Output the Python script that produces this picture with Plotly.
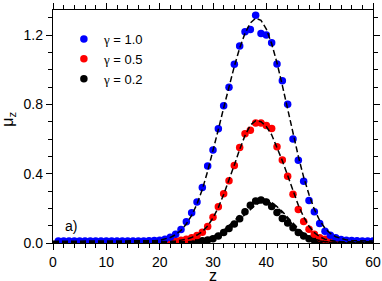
import plotly.graph_objects as go

x_pts = list(range(1, 61))
x_fit = list(range(0, 61))

blue_pts = [0.012, 0.012, 0.012, 0.012, 0.012, 0.012, 0.012, 0.012, 0.012, 0.012,
            0.012, 0.012, 0.012, 0.012, 0.012, 0.012, 0.012, 0.013, 0.014, 0.016,
            0.022, 0.033, 0.051, 0.078, 0.122, 0.174, 0.237, 0.321, 0.444, 0.537,
            0.659, 0.792, 0.899, 1.032, 1.137, 1.219, 1.233, 1.315, 1.210, 1.200,
            1.156, 1.033, 0.936, 0.801, 0.600, 0.477, 0.356, 0.246, 0.180, 0.112,
            0.068, 0.045, 0.030, 0.020, 0.016, 0.014, 0.013, 0.012, 0.012, 0.012]
red_pts = [0.005, 0.005, 0.005, 0.005, 0.005, 0.005, 0.005, 0.005, 0.005, 0.005,
           0.005, 0.005, 0.005, 0.005, 0.005, 0.005, 0.005, 0.005, 0.005, 0.006,
           0.007, 0.009, 0.012, 0.016, 0.021, 0.030, 0.043, 0.062, 0.095, 0.148,
           0.209, 0.285, 0.359, 0.447, 0.551, 0.630, 0.651, 0.693, 0.692, 0.678,
           0.661, 0.555, 0.479, 0.385, 0.281, 0.193, 0.124, 0.080, 0.051, 0.031,
           0.021, 0.014, 0.010, 0.008, 0.006, 0.006, 0.006, 0.006, 0.006, 0.006]
black_pts = [0.003, 0.003, 0.003, 0.003, 0.003, 0.003, 0.003, 0.003, 0.003, 0.003,
             0.003, 0.003, 0.003, 0.003, 0.003, 0.003, 0.003, 0.003, 0.003, 0.003,
             0.003, 0.003, 0.004, 0.005, 0.006, 0.008, 0.010, 0.013, 0.018, 0.025,
             0.040, 0.060, 0.083, 0.110, 0.140, 0.180, 0.218, 0.242, 0.248, 0.237,
             0.210, 0.176, 0.142, 0.115, 0.088, 0.060, 0.040, 0.025, 0.016, 0.010,
             0.007, 0.005, 0.003, 0.003, 0.003, 0.003, 0.003, 0.003, 0.003, 0.003]

blue_fit = [0.010, 0.010, 0.010, 0.010, 0.010, 0.010, 0.010, 0.010, 0.010, 0.010,
            0.010, 0.010, 0.010, 0.010, 0.010, 0.010, 0.010, 0.010, 0.011, 0.013,
            0.016, 0.022, 0.032, 0.048, 0.073, 0.110, 0.160, 0.225, 0.310, 0.415,
            0.530, 0.655, 0.780, 0.905, 1.020, 1.125, 1.210, 1.270, 1.298, 1.285,
            1.235, 1.150, 1.040, 0.910, 0.770, 0.630, 0.500, 0.380, 0.280, 0.195,
            0.130, 0.085, 0.055, 0.036, 0.025, 0.018, 0.014, 0.012, 0.011, 0.011,
            0.011]
red_fit = [0.005, 0.005, 0.005, 0.005, 0.005, 0.005, 0.005, 0.005, 0.005, 0.005,
           0.005, 0.005, 0.005, 0.005, 0.005, 0.005, 0.005, 0.005, 0.005, 0.005,
           0.006, 0.007, 0.009, 0.012, 0.016, 0.022, 0.032, 0.046, 0.066, 0.098,
           0.145, 0.205, 0.280, 0.360, 0.450, 0.540, 0.620, 0.680, 0.706, 0.700,
           0.672, 0.625, 0.555, 0.475, 0.390, 0.300, 0.218, 0.150, 0.097, 0.060,
           0.036, 0.022, 0.014, 0.010, 0.007, 0.007, 0.007, 0.007, 0.007, 0.007,
           0.007]
black_fit_a = [0.003, 0.003, 0.003, 0.003, 0.003, 0.003, 0.003, 0.003, 0.003, 0.003,
               0.003, 0.003, 0.003, 0.003, 0.003, 0.003, 0.003, 0.003, 0.003, 0.003,
               0.003, 0.003, 0.003, 0.004, 0.005, 0.007, 0.010, 0.014, 0.019, 0.027,
               0.038, 0.053, 0.073, 0.098, 0.128, 0.160, 0.193, 0.222, 0.243, 0.254,
               0.251, 0.235, 0.207, 0.172, 0.135, 0.100, 0.070, 0.046, 0.029, 0.018,
               0.011, 0.007, 0.004, 0.003, 0.003, 0.003, 0.003, 0.003, 0.003, 0.003,
               0.003]
black_fit_b = [0.002, 0.002, 0.002, 0.002, 0.002, 0.002, 0.002, 0.002, 0.002, 0.002,
               0.002, 0.002, 0.002, 0.002, 0.002, 0.002, 0.002, 0.002, 0.002, 0.002,
               0.002, 0.002, 0.002, 0.003, 0.004, 0.005, 0.007, 0.010, 0.014, 0.020,
               0.028, 0.040, 0.056, 0.077, 0.103, 0.133, 0.165, 0.195, 0.220, 0.236,
               0.240, 0.231, 0.210, 0.181, 0.147, 0.113, 0.082, 0.056, 0.036, 0.022,
               0.013, 0.008, 0.005, 0.003, 0.002, 0.002, 0.002, 0.002, 0.002, 0.002,
               0.002]

gamma_vals = ["1.0", "0.5", "0.2"]
colors = ["#0000ff", "#ff0000", "#000000"]
x_ticks = [0, 10, 20, 30, 40, 50, 60]
y_ticks = [0.0, 0.4, 0.8, 1.2]
y_tick_text = ["0.0", "0.4", "0.8", "1.2"]

FONT = "Liberation Sans, Arial, Helvetica"
labels = ['<span style="font-family:Liberation Serif, Times New Roman, serif">γ</span> = ' + g
          for g in gamma_vals]

fig = go.Figure()
pts = [blue_pts, red_pts, black_pts]
# draw black first, blue on top
for i in [2, 1, 0]:
    fig.add_trace(go.Scatter(x=x_pts, y=pts[i], mode="markers", name=labels[i],
                             marker=dict(color=colors[i], size=7.5, line=dict(width=0)),
                             legendrank=i + 1, hoverinfo="skip"))
for fit in [black_fit_a, black_fit_b, red_fit, blue_fit]:
    fig.add_trace(go.Scatter(x=x_fit, y=fit, mode="lines", showlegend=False, hoverinfo="skip",
                             line=dict(color="black", width=1.5, dash="6px,3px")))

axis_common = dict(showline=True, linecolor="black", linewidth=1.3, mirror="allticks",
                   ticks="outside", tickcolor="black", tickwidth=1.2, ticklen=6,
                   showgrid=False, zeroline=False, automargin=False,
                   tickfont=dict(family=FONT, size=14, color="black"))

fig.update_xaxes(range=[0, 60], tickvals=x_ticks,
                 minor=dict(dtick=2, ticks="outside", ticklen=3.5, tickcolor="black", tickwidth=1),
                 **axis_common)
fig.update_yaxes(range=[0, 1.345], tickvals=y_ticks, ticktext=y_tick_text,
                 minor=dict(dtick=0.1, ticks="outside", ticklen=3.5, tickcolor="black", tickwidth=1),
                 **axis_common)

fig.add_annotation(x=0.5, y=-0.141, xref="paper", yref="paper", text="z", showarrow=False,
                   xanchor="center", yanchor="middle", borderpad=0,
                   font=dict(family=FONT, size=16, color="black"))
fig.add_annotation(x=-0.14, y=0.53, xref="paper", yref="paper", text="μ<sub>z</sub>",
                   showarrow=False, textangle=-90, xanchor="center", yanchor="middle",
                   font=dict(family=FONT, size=16, color="black"))
fig.add_annotation(x=0.03, y=0.075, xref="paper", yref="paper", text="a)", showarrow=False,
                   xanchor="left", yanchor="middle",
                   font=dict(family=FONT, size=14, color="black"))

fig.update_layout(width=382, height=281, margin=dict(l=53, r=9, t=10, b=38),
                  autosize=False, hovermode=False,
                  paper_bgcolor="white", plot_bgcolor="white",
                  legend=dict(x=0.034, y=0.94, xanchor="left", yanchor="top",
                              bgcolor="rgba(0,0,0,0)", borderwidth=0,
                              font=dict(family=FONT, size=13, color="black"),
                              tracegroupgap=0, itemwidth=30))
fig.write_html("out.html",
               config={"displayModeBar": False, "responsive": False},
               post_script="document.body.style.margin='0px';document.body.style.overflow='hidden';")
